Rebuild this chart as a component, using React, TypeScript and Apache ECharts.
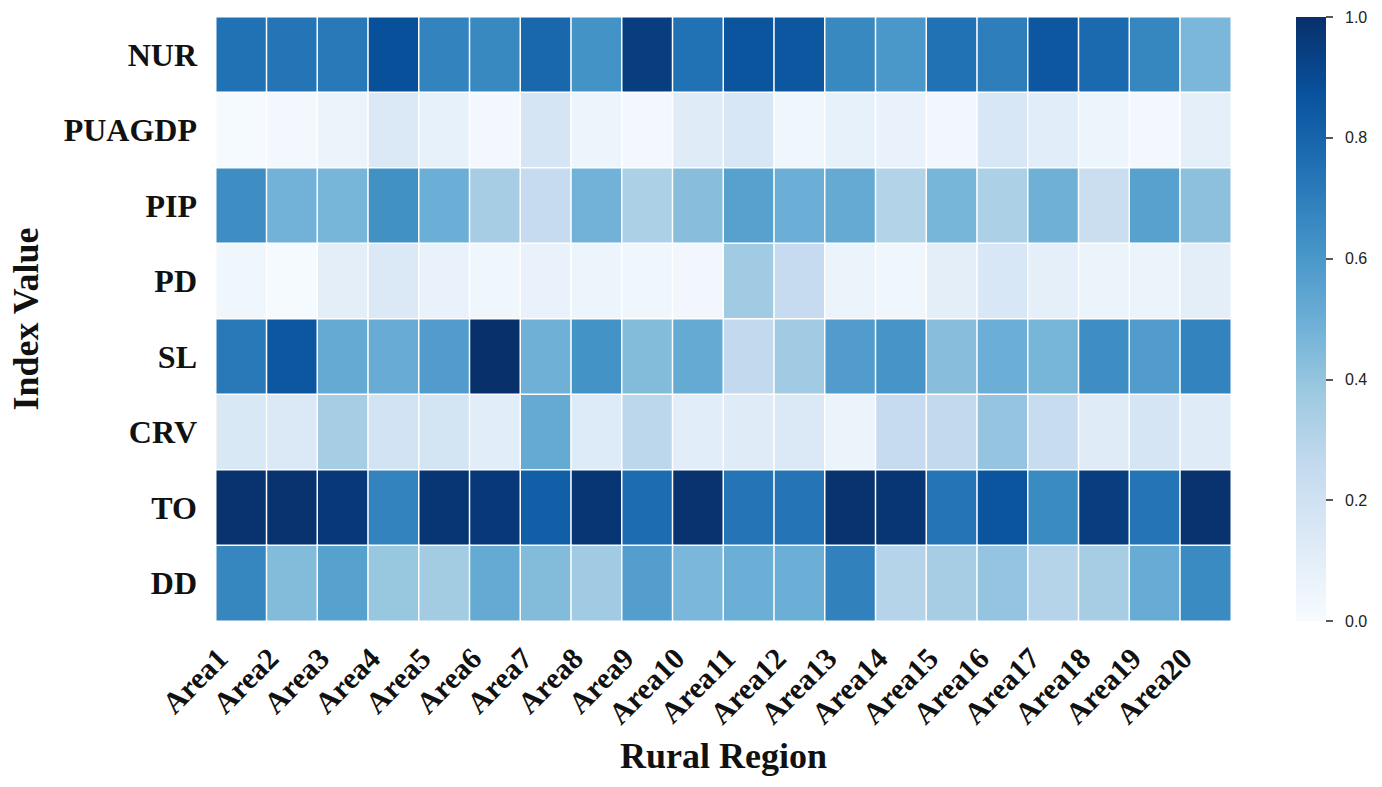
import React, { useEffect, useRef } from "react";
import * as echarts from "echarts";

const AREAS = [
  "Area1", "Area2", "Area3", "Area4", "Area5", "Area6", "Area7", "Area8", "Area9", "Area10",
  "Area11", "Area12", "Area13", "Area14", "Area15", "Area16", "Area17", "Area18", "Area19", "Area20",
];
const INDICES = ["NUR", "PUAGDP", "PIP", "PD", "SL", "CRV", "TO", "DD"];

const NUR = [0.75, 0.74, 0.72, 0.88, 0.68, 0.66, 0.79, 0.62, 0.95, 0.75, 0.86, 0.85, 0.66, 0.6, 0.75, 0.7, 0.85, 0.78, 0.67, 0.46];
const PUAGDP = [0.01, 0.02, 0.06, 0.14, 0.08, 0.02, 0.17, 0.05, 0.02, 0.12, 0.16, 0.04, 0.08, 0.07, 0.03, 0.16, 0.11, 0.05, 0.02, 0.09];
const PIP = [0.64, 0.48, 0.47, 0.63, 0.5, 0.35, 0.25, 0.48, 0.33, 0.43, 0.56, 0.5, 0.52, 0.31, 0.47, 0.33, 0.49, 0.23, 0.56, 0.42];
const PD = [0.04, 0.01, 0.1, 0.14, 0.07, 0.04, 0.07, 0.05, 0.04, 0.03, 0.37, 0.25, 0.06, 0.04, 0.1, 0.16, 0.09, 0.06, 0.06, 0.1];
const SL = [0.72, 0.85, 0.52, 0.51, 0.58, 1.0, 0.49, 0.62, 0.44, 0.52, 0.26, 0.37, 0.58, 0.61, 0.43, 0.5, 0.47, 0.64, 0.58, 0.68];
const CRV = [0.15, 0.14, 0.35, 0.19, 0.18, 0.11, 0.52, 0.13, 0.28, 0.11, 0.12, 0.14, 0.06, 0.25, 0.26, 0.4, 0.24, 0.12, 0.17, 0.12];
const TO = [0.99, 0.99, 0.97, 0.68, 0.98, 0.97, 0.82, 0.98, 0.77, 0.99, 0.74, 0.74, 0.99, 0.98, 0.74, 0.86, 0.65, 0.95, 0.74, 0.99];
const DD = [0.67, 0.44, 0.56, 0.39, 0.36, 0.52, 0.44, 0.37, 0.57, 0.46, 0.5, 0.5, 0.69, 0.3, 0.35, 0.4, 0.3, 0.35, 0.51, 0.65];

const ROWS = [NUR, PUAGDP, PIP, PD, SL, CRV, TO, DD];
const COLORBAR_TICKS = [0, 0.2, 0.4, 0.6, 0.8, 1.0];

const BLUES = ["#f7fbff", "#deebf7", "#c6dbef", "#9ecae1", "#6baed6", "#4292c6", "#2171b5", "#08519c", "#08306b"];

const SERIF = '"Liberation Serif", "Times New Roman", serif';
const SANS = '"Liberation Sans", Arial, sans-serif';

export default function App() {
  const ref = useRef<HTMLDivElement>(null);

  useEffect(() => {
    document.body.style.margin = "0";
    if (!ref.current) return;
    const chart = echarts.init(ref.current, undefined, { renderer: "svg" });

    const data: [number, number, number][] = [];
    ROWS.forEach((row, yi) => row.forEach((v, xi) => data.push([xi, yi, v])));

    const W = 1382;
    const gTop = 17;
    const gHeight = 604;
    const cbLeft = 1296;
    const cbWidth = 30;

    const n = BLUES.length - 1;
    const stops = BLUES.map((_, i) => ({ offset: i / n, color: BLUES[n - i] }));

    chart.setOption({
      animation: false,
      backgroundColor: "#ffffff",
      grid: [
        { left: 216, right: 151, top: gTop, height: gHeight, containLabel: false, outerBoundsMode: "none" },
        { left: cbLeft, right: W - cbLeft - cbWidth, top: gTop, height: gHeight, containLabel: false, outerBoundsMode: "none" },
      ],
      xAxis: [
        {
          type: "category",
          gridIndex: 0,
          data: AREAS,
          name: "Rural Region",
          nameLocation: "middle",
          nameGap: 117,
          nameTextStyle: { fontFamily: SERIF, fontWeight: "bold", fontSize: 36, color: "#111" },
          axisLine: { show: false },
          axisTick: { show: false },
          splitLine: { show: false },
          axisLabel: {
            rotate: 45,
            interval: 0,
            margin: 13,
            padding: [0, 27, 0, 0],
            fontFamily: SERIF,
            fontWeight: "bold",
            fontSize: 30,
            color: "#111",
          },
        },
        { type: "value", gridIndex: 1, show: false, min: 0, max: 1 },
      ],
      yAxis: [
        {
          type: "category",
          gridIndex: 0,
          data: INDICES,
          inverse: true,
          name: "Index Value",
          nameLocation: "middle",
          nameGap: 172,
          nameRotate: 90,
          nameTextStyle: { fontFamily: SERIF, fontWeight: "bold", fontSize: 36, color: "#111" },
          axisLine: { show: false },
          axisTick: { show: false },
          splitLine: { show: false },
          axisLabel: {
            margin: 19,
            fontFamily: SERIF,
            fontWeight: "bold",
            fontSize: 32,
            color: "#111",
          },
        },
        {
          type: "value",
          gridIndex: 1,
          position: "right",
          min: 0,
          max: 1,
          interval: 0.2,
          axisLine: { show: false, onZero: false },
          splitLine: { show: false },
          axisTick: { show: true, inside: false, length: 7, lineStyle: { color: "#222", width: 1.5 } },
          axisLabel: {
            margin: 19,
            fontFamily: SANS,
            fontSize: 16,
            color: "#222",
            formatter: (v: number) => (COLORBAR_TICKS.some((t) => Math.abs(t - v) < 1e-6) ? v.toFixed(1) : ""),
          },
        },
      ],
      visualMap: {
        show: false,
        type: "continuous",
        min: 0,
        max: 1,
        dimension: 2,
        seriesIndex: 0,
        inRange: { color: BLUES },
      },
      graphic: [
        {
          type: "rect",
          shape: { x: cbLeft, y: gTop, width: cbWidth, height: gHeight },
          style: { fill: new echarts.graphic.LinearGradient(0, 0, 0, 1, stops) },
          z: -1,
        },
      ],
      series: [
        {
          type: "heatmap",
          xAxisIndex: 0,
          yAxisIndex: 0,
          data,
          itemStyle: { borderColor: "#ffffff", borderWidth: 1.5 },
          emphasis: { disabled: true },
        },
        { type: "line", xAxisIndex: 1, yAxisIndex: 1, data: [] },
      ],
    });

    return () => chart.dispose();
  }, []);

  return <div ref={ref} style={{ width: 1382, height: 787 }} />;
}
